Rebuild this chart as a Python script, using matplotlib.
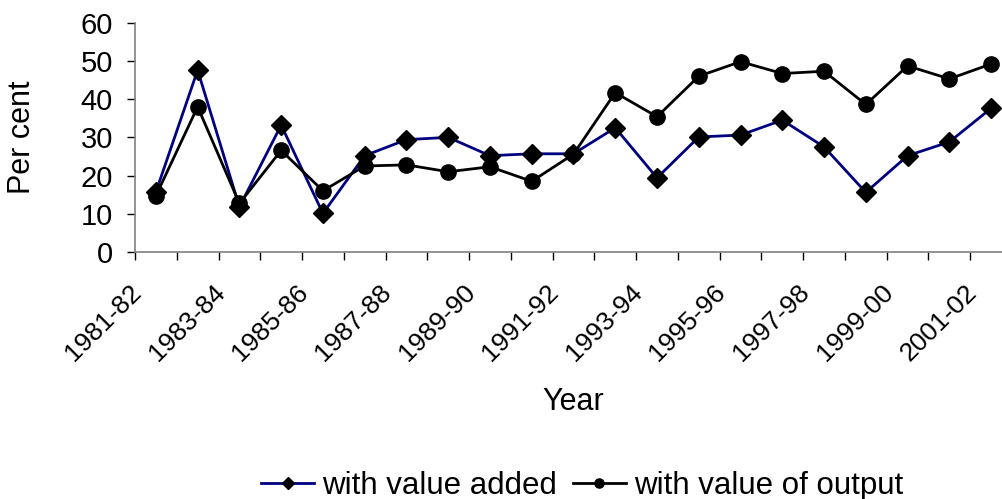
import numpy as np
import matplotlib
matplotlib.use("Agg")
import matplotlib.pyplot as plt
from matplotlib.ticker import FixedLocator
from matplotlib.transforms import ScaledTranslation

years = ['1981-82', '1982-83', '1983-84', '1984-85', '1985-86', '1986-87', '1987-88',
         '1988-89', '1989-90', '1990-91', '1991-92', '1992-93', '1993-94', '1994-95',
         '1995-96', '1996-97', '1997-98', '1998-99', '1999-00', '2000-01', '2001-02']
value_added = [15.7, 47.6, 11.8, 33.2, 10.1, 25.2, 29.4, 30.0, 25.2, 25.7, 25.7,
               32.5, 19.4, 30.1, 30.6, 34.5, 27.5, 15.6, 25.2, 28.8, 37.6]
value_output = [14.7, 38.0, 12.7, 26.6, 16.0, 22.5, 22.8, 21.0, 22.3, 18.5, 25.6,
                41.7, 35.4, 46.0, 49.8, 46.7, 47.3, 38.6, 48.7, 45.3, 49.2]

plt.rcParams['font.family'] = ['Liberation Sans', 'DejaVu Sans']

W, H = 1003, 499
fig = plt.figure(figsize=(W/100, H/100), dpi=100)
ax = fig.add_axes([135/W, 247/H, (1012-135)/W, (252-22.7)/H])

x = np.arange(len(years))
ax.plot(x, value_added, color='#000080', lw=2, marker='D', ms=10,
        mfc='black', mec='black', label='with value added', clip_on=False)
ax.plot(x, value_output, color='black', lw=2, marker='o', ms=11,
        mfc='black', mec='black', label='with value of output', clip_on=False)

ax.set_xlim(-0.5, len(years) - 0.5)
ax.set_ylim(0, 60)
ax.set_yticks(range(0, 61, 10))

# tick marks between categories, labels at every other category
ax.xaxis.set_major_locator(FixedLocator(np.arange(len(years) + 1) - 0.5))
ax.xaxis.set_major_formatter(plt.NullFormatter())
ax.xaxis.set_minor_locator(FixedLocator(x[::2]))
ax.set_xticklabels(years[::2], minor=True, rotation=45, ha='right',
                   rotation_mode='anchor', fontsize=19)
ax.tick_params(axis='x', which='minor', length=0, pad=14)
ax.tick_params(axis='x', which='major', length=5.5, width=1, color='black')
ax.tick_params(axis='y', length=6, width=1, color='black', labelsize=21, pad=10)

# nudge the slanted labels so they end left of their category
shift = ScaledTranslation(-0.27, -0.09, fig.dpi_scale_trans)
for t in ax.xaxis.get_minor_ticks():
    t.label1.set_transform(t.label1.get_transform() + shift)

for s in ['top', 'right']:
    ax.spines[s].set_visible(False)
for s in ['left', 'bottom']:
    ax.spines[s].set_color('#808080')
    ax.spines[s].set_linewidth(1.2)

ax.set_ylabel('Per cent', fontsize=22, va='center')
ax.yaxis.set_label_coords(-0.129, 0.5)
ax.set_xlabel('Year', fontsize=22, va='center')
ax.xaxis.set_label_coords(0.5, -0.654)

leg = fig.legend(loc='center', bbox_to_anchor=(582/W, 1 - 486/H), ncol=2,
                 frameon=False, fontsize=22.5, handlelength=1.7, handletextpad=0.25,
                 columnspacing=0.5, markerscale=0.6)

fig.savefig('out.png', dpi=100)
